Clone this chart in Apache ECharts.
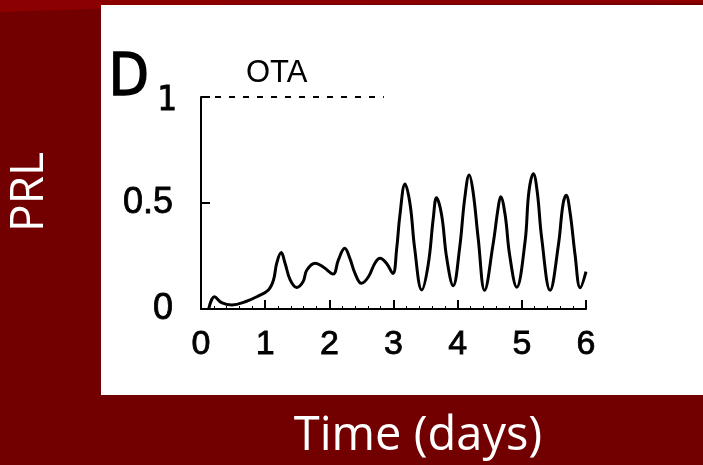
<!DOCTYPE html>
<html>
<head>
<meta charset="utf-8">
<script src="https://cdn.jsdelivr.net/npm/echarts@6/dist/echarts.min.js"></script>
<style>
  html, body { margin: 0; padding: 0; background: #730000; }
  #chart { width: 703px; height: 465px; }
</style>
</head>
<body>
<div id="chart"></div>
<script>
// PRL 曲线读数 (时间, 天)
var timeDays = [0.12, 0.21, 0.32, 0.48, 0.69, 0.89, 1.05, 1.13, 1.18, 1.25, 1.31, 1.39, 1.49, 1.59,
    1.65, 1.78, 1.91, 2.06, 2.14, 2.24, 2.32, 2.40, 2.50, 2.61, 2.71, 2.79, 2.89, 2.99,
    3.05, 3.10, 3.18, 3.26, 3.33, 3.44, 3.54, 3.62, 3.67, 3.75, 3.83, 3.93,
    4.03, 4.11, 4.18, 4.24, 4.32, 4.42, 4.55, 4.63, 4.67, 4.74, 4.81, 4.92,
    5.05, 5.11, 5.18, 5.24, 5.31, 5.44, 5.57, 5.64, 5.69, 5.75, 5.83, 5.91, 6.0];
var prlValues = [0.0, 0.058, 0.03, 0.019, 0.034, 0.061, 0.09, 0.137, 0.216, 0.266, 0.216, 0.137, 0.102, 0.129,
    0.184, 0.216, 0.197, 0.165, 0.231, 0.286, 0.239, 0.168, 0.121, 0.152, 0.216, 0.239, 0.216, 0.168,
    0.286, 0.443, 0.59, 0.491, 0.286, 0.09, 0.208, 0.428, 0.525, 0.443, 0.239, 0.11,
    0.286, 0.522, 0.632, 0.553, 0.333, 0.088, 0.302, 0.475, 0.53, 0.443, 0.255, 0.103,
    0.317, 0.553, 0.638, 0.553, 0.333, 0.088, 0.302, 0.491, 0.536, 0.459, 0.255, 0.1, 0.176];
// OTA 虚线 (y = 1)
var otaTime = [0, 2.85];
var otaValue = [1, 1];
var xTicks = [0, 1, 2, 3, 4, 5, 6];
var yTicks = [0, 0.5, 1];

var chart = echarts.init(document.getElementById('chart'));

var prlData = timeDays.map(function (t, i) { return [t, prlValues[i]]; });
var otaData = otaTime.map(function (t, i) { return [t, otaValue[i]]; });

var option = {
    backgroundColor: '#730000',
    animation: false,
    graphic: [
        { type: 'polygon', shape: { points: [[0, 0], [703, 0], [703, 3], [240, 4], [0, 12]] }, style: { fill: '#8b0000' }, z: 0 },
        { type: 'rect', shape: { x: 101, y: 5, width: 602, height: 390 }, style: { fill: '#ffffff' }, z: 0 },
        { type: 'text', left: 108, top: 50, style: { text: 'D', font: '58px "DejaVu Sans Condensed", "Liberation Sans"', fill: '#000', stroke: '#000', lineWidth: 1.5 }, z: 10 },
        { type: 'text', left: 157, top: 84, style: { text: '1', font: '34px "DejaVu Sans Condensed", "Liberation Sans"', fill: '#000', stroke: '#000', lineWidth: 1 }, z: 10 },
        { type: 'text', left: 246, top: 58, style: { text: 'OTA', font: '31px "Liberation Sans", Arial', fill: '#000' }, z: 10 },
        { type: 'text', x: 30, y: 192, rotation: Math.PI / 2, style: { text: 'PRL', font: '46px "Open Sans"', fill: '#fff', align: 'center', verticalAlign: 'middle' }, z: 10 },
        { type: 'text', x: 418, y: 437, style: { text: 'Time (days)', font: '47px "Open Sans"', fill: '#fff', align: 'center', verticalAlign: 'middle' }, z: 10 }
    ],
    grid: { left: 201, right: 117, top: 97, bottom: 156 },
    xAxis: {
        type: 'value', min: 0, max: 6, interval: 1,
        axisLine: { lineStyle: { color: '#000', width: 2 } },
        axisTick: { inside: true, length: 9, lineStyle: { color: '#000', width: 2 } },
        minorTick: { show: true, splitNumber: 5, length: 3, lineStyle: { color: '#000' } },
        splitLine: { show: false },
        axisLabel: {
            margin: 19, color: '#000', fontSize: 34, fontFamily: 'Liberation Sans',
            textBorderColor: '#000', textBorderWidth: 0.8,
            formatter: function (v) { return xTicks.indexOf(v) >= 0 ? String(v) : ''; }
        }
    },
    yAxis: {
        type: 'value', min: 0, max: 1, interval: 0.5,
        axisLine: { show: true, lineStyle: { color: '#000', width: 2 } },
        axisTick: { show: true, inside: true, length: 9, lineStyle: { color: '#000', width: 2 } },
        splitLine: { show: false },
        axisLabel: {
            margin: 28, color: '#000', fontSize: 36, fontFamily: 'Liberation Sans',
            textBorderColor: '#000', textBorderWidth: 0.8,
            formatter: function (v) { return v === yTicks[2] ? '' : String(v); }
        }
    },
    series: [
        {
            name: 'PRL', type: 'line', data: prlData, smooth: 0.4, symbol: 'none',
            lineStyle: { color: '#000', width: 3 }
        },
        {
            name: 'OTA', type: 'line', data: otaData, symbol: 'none',
            lineStyle: { color: '#000', width: 2, type: [6, 8] }
        }
    ]
};
chart.setOption(option);
</script>
</body>
</html>
